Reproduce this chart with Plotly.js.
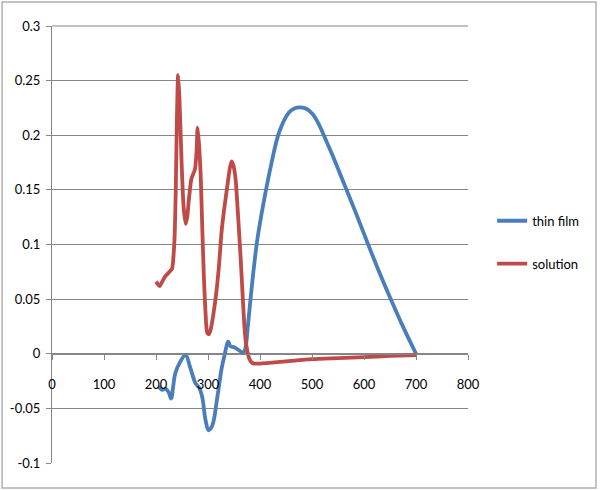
<!DOCTYPE html>
<html>
<head>
<meta charset="utf-8">
<script src="https://cdn.plot.ly/plotly-3.0.1.min.js"></script>
<style>
  html, body { margin: 0; padding: 0; background: #fff; }
  #chart { width: 600px; height: 490px; }
</style>
</head>
<body>
<div id="chart"></div>
<script>
// thin film (blue)
var filmX = [205, 212, 218, 224, 229, 233, 237, 247, 257, 266, 276, 283, 289, 295, 301, 306, 311, 316, 321, 326, 331, 339, 343, 350, 357, 363, 368, 372, 376, 385, 395, 408, 421, 437, 456, 467, 478, 490, 501, 511, 520, 530, 540, 566, 588, 608, 630, 652, 675, 700];
var filmY = [-0.030, -0.033, -0.032, -0.035, -0.041, -0.030, -0.018, -0.007, -0.001, -0.013, -0.027, -0.031, -0.040, -0.060, -0.070, -0.068, -0.061, -0.046, -0.030, -0.014, -0.003, 0.011, 0.007, 0.006, 0.004, 0.002, 0.001, 0.005, 0.022, 0.065, 0.105, 0.141, 0.172, 0.203, 0.221, 0.2248, 0.2255, 0.224, 0.2194, 0.212, 0.203, 0.192, 0.181, 0.1505, 0.1245, 0.100, 0.074, 0.0494, 0.0248, 0.000];

// solution (red)
var solX = [200, 207, 212, 218, 226, 231, 234, 236, 238, 240, 242.5, 245, 249, 253, 257, 260, 263, 268, 275, 278, 280, 283, 286, 289, 292, 295, 298.5, 302, 305, 310, 316, 321, 326, 331, 337, 342, 345.5, 349, 353, 358, 363, 367, 371, 375, 379, 384, 389, 400, 450, 500, 550, 600, 650, 700];
var solY = [0.066, 0.062, 0.066, 0.071, 0.075, 0.078, 0.092, 0.110, 0.150, 0.210, 0.255, 0.235, 0.178, 0.135, 0.119, 0.125, 0.140, 0.160, 0.169, 0.185, 0.207, 0.190, 0.163, 0.115, 0.071, 0.040, 0.019, 0.018, 0.022, 0.035, 0.056, 0.080, 0.111, 0.132, 0.153, 0.170, 0.176, 0.172, 0.160, 0.125, 0.086, 0.050, 0.019, 0.004, -0.004, -0.008, -0.009, -0.009, -0.007, -0.005, -0.004, -0.003, -0.002, -0.0012];

var xTicks = [0, 100, 200, 300, 400, 500, 600, 700, 800];
var yTicks = [-0.1, -0.05, 0, 0.05, 0.1, 0.15, 0.2, 0.25, 0.3];
var yTickText = ["-0.1", "-0.05", "0", "0.05", "0.1", "0.15", "0.2", "0.25", "0.3"];

var axisGray = "#868686";

var trace_film = {
  x: filmX,
  y: filmY,
  type: "scatter",
  mode: "lines",
  name: "thin film",
  legendgroup: "a",
  line: { color: "#4a7ebb", width: 3.8, shape: "spline", smoothing: 1 },
};

var trace_sol = {
  x: solX,
  y: solY,
  type: "scatter",
  mode: "lines",
  name: "solution",
  legendgroup: "b",
  line: { color: "#be4b48", width: 3.8, shape: "spline", smoothing: 0.6 },
};

var layout = {
  width: 600,
  height: 490,
  margin: { l: 52, r: 132, t: 26, b: 27 },
  paper_bgcolor: "#fff",
  plot_bgcolor: "#fff",
  font: { family: "Lato, 'Open Sans', sans-serif", size: 13, color: "#000" },
  showlegend: true,
  legend: {
    x: 1.058,
    xanchor: "left",
    y: 0.505,
    yanchor: "middle",
    traceorder: "grouped",
    tracegroupgap: 23,
    itemwidth: 30,
    font: { size: 13, color: "#000" },
    bgcolor: "rgba(0,0,0,0)",
  },
  xaxis: {
    range: [0, 800],
    tickvals: xTicks,
    showgrid: false,
    zeroline: false,
    showline: true,
    linecolor: axisGray,
    linewidth: 1,
    ticks: "outside",
    ticklen: 5,
    tickcolor: axisGray,
    anchor: "free",
    position: 0.25,
    ticklabelstandoff: 14,
    fixedrange: true,
  },
  yaxis: {
    range: [-0.1, 0.3],
    tickvals: yTicks,
    ticktext: yTickText,
    showgrid: true,
    gridcolor: axisGray,
    gridwidth: 1,
    zeroline: false,
    showline: true,
    linecolor: axisGray,
    linewidth: 1,
    ticks: "outside",
    ticklen: 5,
    tickcolor: axisGray,
    ticklabelstandoff: 3,
    fixedrange: true,
  },
  shapes: [
    // top gridline at 0.3 (sits on the plot edge, so draw it above the plot background)
    {
      type: "line",
      xref: "paper",
      yref: "paper",
      x0: 0,
      x1: 1,
      y0: 1,
      y1: 1,
      line: { color: axisGray, width: 1 },
      layer: "above",
    },
    // outer chart border
    {
      type: "rect",
      xref: "paper",
      yref: "paper",
      x0: -0.12,
      x1: 1.3077,
      y0: -0.0572,
      y1: 1.0549,
      line: { color: "#b0b0b0", width: 1.5 },
      layer: "below",
    },
  ],
};

Plotly.newPlot("chart", [trace_film, trace_sol], layout, {
  displayModeBar: false,
  staticPlot: true,
});
</script>
</body>
</html>
